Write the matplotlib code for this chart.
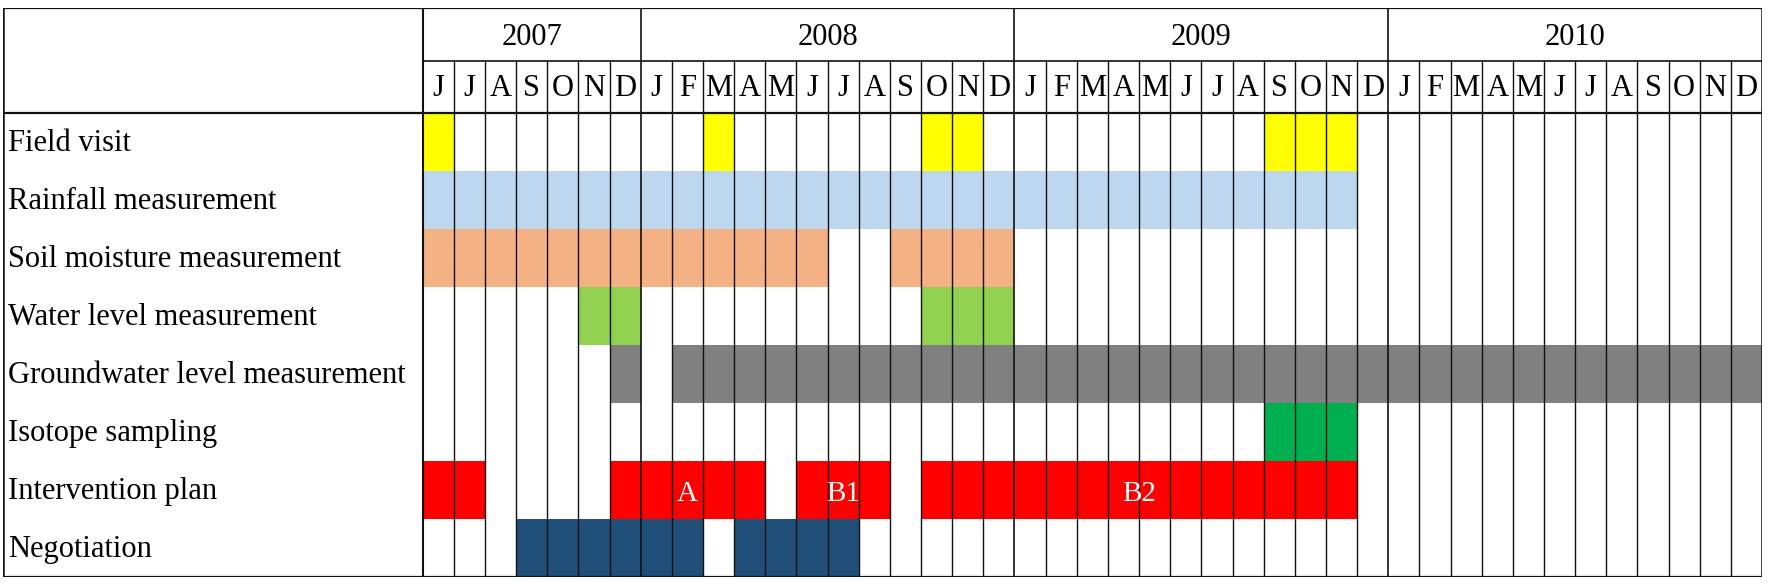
import matplotlib
matplotlib.use("Agg")
import matplotlib.pyplot as plt

# ---------------- data ----------------
years = ["2007", "2008", "2009", "2010"]
year_month_counts = [7, 12, 12, 12]
month_labels = (["J", "J", "A", "S", "O", "N", "D"]
                + ["J", "F", "M", "A", "M", "J", "J", "A", "S", "O", "N", "D"]
                + ["J", "F", "M", "A", "M", "J", "J", "A", "S", "O", "N", "D"]
                + ["J", "F", "M", "A", "M", "J", "J", "A", "S", "O", "N", "D"])

activities = ["Field visit", "Rainfall measurement", "Soil moisture measurement",
              "Water level measurement", "Groundwater level measurement",
              "Isotope sampling", "Intervention plan", "Negotiation"]

# month index spans (first, last), index 0 = June 2007
field_visit_spans = [(0, 0), (9, 9), (16, 17), (27, 29)]
rainfall_spans = [(0, 29)]
soil_moisture_spans = [(0, 12), (15, 18)]
water_level_spans = [(5, 6), (16, 18)]
groundwater_spans = [(6, 6), (8, 42)]
isotope_spans = [(27, 29)]
intervention_spans = [(0, 1), (6, 10), (12, 14), (16, 29)]
negotiation_spans = [(3, 8), (10, 13)]

intervention_phase_labels = ["", "A", "B1", "B2"]

activity_spans = [field_visit_spans, rainfall_spans, soil_moisture_spans,
                  water_level_spans, groundwater_spans, isotope_spans,
                  intervention_spans, negotiation_spans]
activity_colors = ["#FFFF00", "#BDD7EE", "#F4B183", "#92D050",
                   "#808080", "#00B050", "#FF0000", "#1F4E79"]

# ---------------- layout ----------------
W, H = 1772, 583
fig = plt.figure(figsize=(W / 100, H / 100), dpi=100)
left_px, right_px, top_px, bot_px = 3, 1762, 8.3, 576.7
ax = fig.add_axes([left_px / W, 1 - bot_px / H, (right_px - left_px) / W, (bot_px - top_px) / H])

n_months = len(month_labels)
col_px = (right_px - 422.7) / n_months
label_w = (422.7 - left_px) / col_px
row_px = (bot_px - 112.7) / len(activities)
year_h = (60.7 - top_px) / row_px
month_h = (112.7 - 60.7) / row_px
y_top = -(year_h + month_h)
y_mid = -month_h
n_rows = len(activities)

ax.set_xlim(-label_w, n_months)
ax.set_ylim(n_rows, y_top)
ax.axis("off")

font = "Liberation Serif"
fs = 22

# colored cells
for r, (spans, col) in enumerate(zip(activity_spans, activity_colors)):
    for (a, b) in spans:
        ax.barh(r, b - a + 1, left=a, height=1, align="edge", color=col,
                edgecolor="none", zorder=1)

# intervention phase labels
r_int = activities.index("Intervention plan")
for (a, b), lab in zip(intervention_spans, intervention_phase_labels):
    if lab:
        ax.text((a + b + 1) / 2, r_int + 0.58, lab, ha="center", va="center",
                color="white", fontsize=21, family=font, zorder=4)

# grid lines
lc = "#111111"
year_bounds = [0]
for c in year_month_counts:
    year_bounds.append(year_bounds[-1] + c)
for x in range(1, n_months):
    if x in year_bounds:
        ax.vlines(x, y_top, n_rows, color=lc, lw=1.2, zorder=3)
    else:
        ax.vlines(x, y_mid, n_rows, color=lc, lw=1.0, zorder=3)
ax.vlines(0, y_top, n_rows, color=lc, lw=1.5, zorder=3)
ax.vlines([-label_w, n_months], y_top, n_rows, color=lc, lw=1.8, zorder=3)
ax.hlines([y_top, 0, n_rows], -label_w, n_months, color=lc, lw=1.6, zorder=3)
ax.hlines(y_mid, 0, n_months, color=lc, lw=1.2, zorder=3)

# header texts
for i, yr in enumerate(years):
    ax.text((year_bounds[i] + year_bounds[i + 1]) / 2, (y_top + y_mid) / 2 + 0.05, yr,
            ha="center", va="center", fontsize=fs, family=font, zorder=4)
for i, m in enumerate(month_labels):
    ax.text(i + 0.5, y_mid / 2 + 0.03, m, ha="center", va="center",
            fontsize=fs, family=font, zorder=4)

# activity labels
for r, name in enumerate(activities):
    ax.text(-label_w + 0.15, r + 0.53, name, ha="left", va="center",
            fontsize=fs, family=font, zorder=4)

fig.savefig("out.png", dpi=100)
